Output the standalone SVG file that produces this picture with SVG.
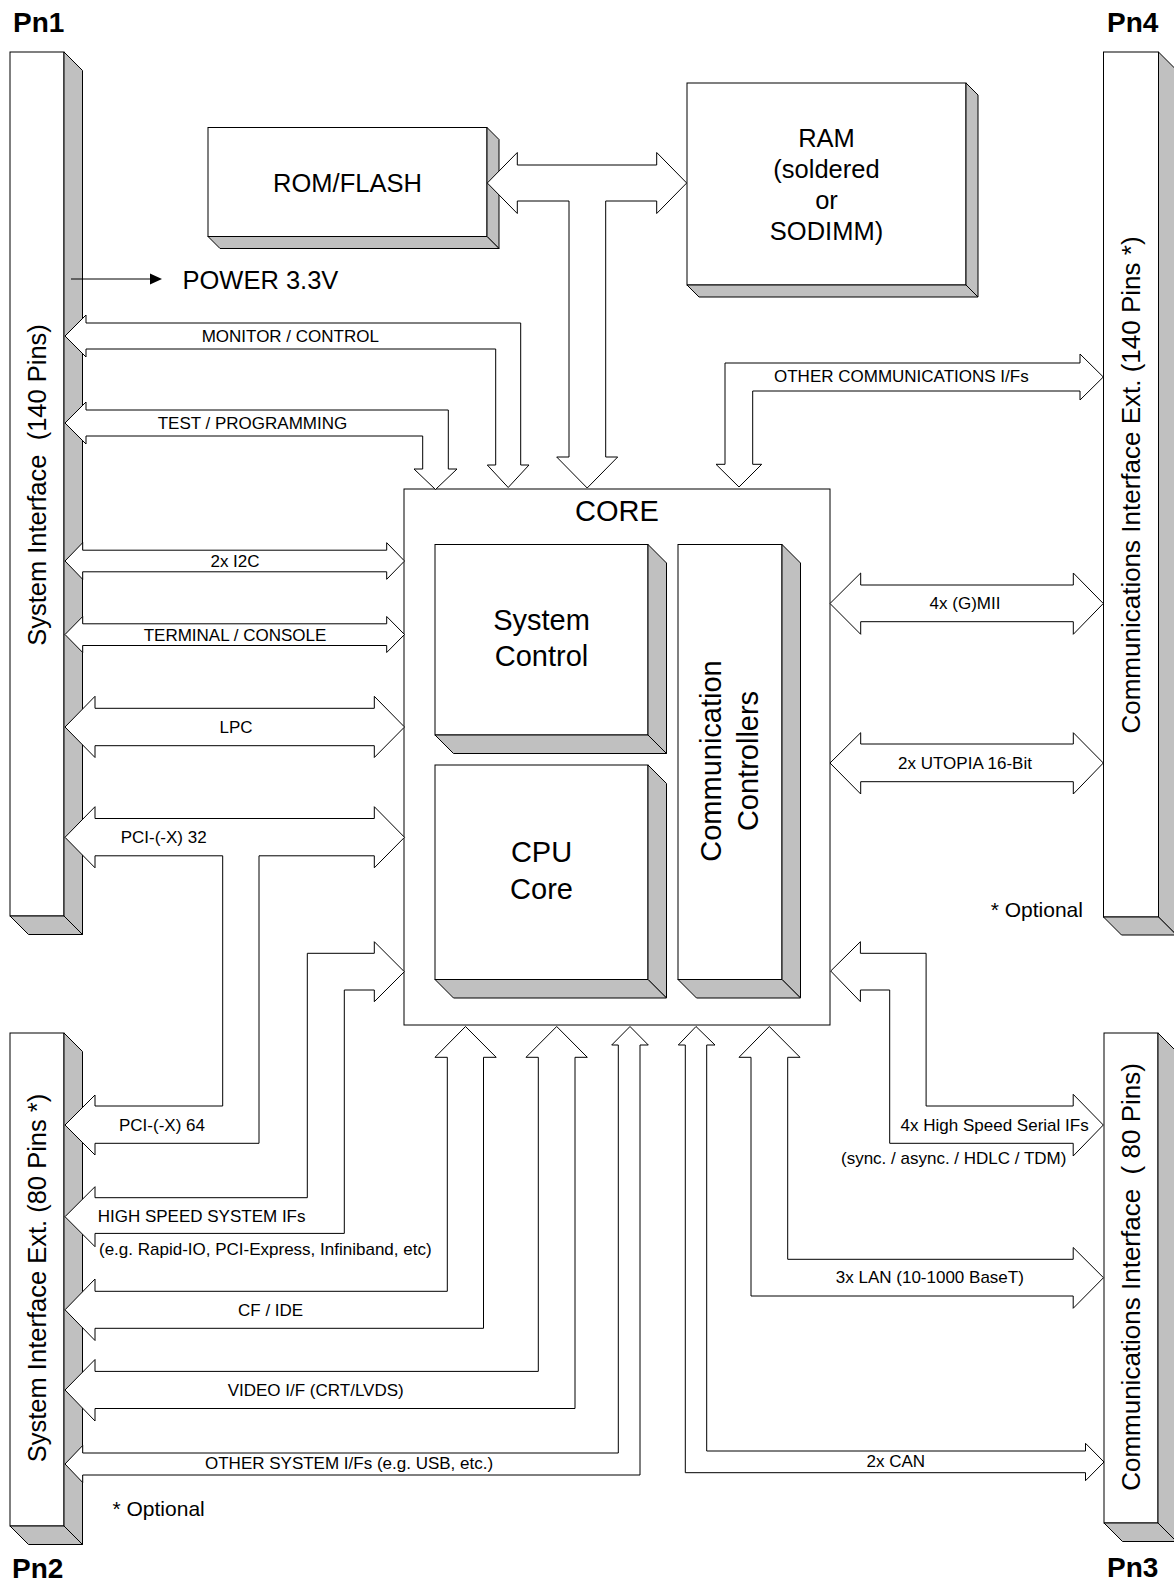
<svg xmlns="http://www.w3.org/2000/svg" width="1174" height="1582" viewBox="0 0 1174 1582">
<style>
text{font-family:"Liberation Sans",Arial,sans-serif;fill:#000}
.box{fill:#fff;stroke:#000;stroke-width:1}
.sh{fill:#c0c0c0;stroke:#000;stroke-width:1;stroke-linejoin:miter}
.arr{fill:#fff;stroke:#000;stroke-width:1;stroke-linejoin:miter}
.lbl{font-size:17px}
.big{font-size:25.5px}
.big2{font-size:26px}
.core{font-size:29px}
.pn{font-size:28px;font-weight:bold}
.opt{font-size:21px}
.pre{white-space:pre}
</style>
<rect width="1174" height="1582" fill="#fff"/>

<g id="pn1">
<rect class="box" x="10" y="52" width="54" height="864"/>
<polygon class="sh" points="64,52 82.5,70.5 82.5,934.5 64,916"/>
<polygon class="sh" points="10,916 64,916 82.5,934.5 28.5,934.5"/>
<text class="big pre" transform="translate(46,485) rotate(-90)" text-anchor="middle">System Interface  (140 Pins)</text>
<text class="pn" x="13" y="31.5">Pn1</text>
</g>

<g id="pn2">
<rect class="box" x="10" y="1033" width="54" height="493"/>
<polygon class="sh" points="64,1033 82.5,1051.5 82.5,1544.5 64,1526"/>
<polygon class="sh" points="10,1526 64,1526 82.5,1544.5 28.5,1544.5"/>
<text class="big" transform="translate(46,1278) rotate(-90)" text-anchor="middle">System Interface Ext. (80 Pins *)</text>
<text class="pn" x="12" y="1578">Pn2</text>
<text class="opt" x="112.5" y="1516">* Optional</text>
</g>

<g id="pn4">
<rect class="box" x="1103.5" y="52" width="55" height="865"/>
<polygon class="sh" points="1158.5,52 1176.5,70 1176.5,935 1158.5,917"/>
<polygon class="sh" points="1103.5,917 1158.5,917 1176.5,935 1121.5,935"/>
<text class="big2" transform="translate(1139.5,485) rotate(-90)" text-anchor="middle">Communications Interface Ext. (140 Pins *)</text>
<text class="pn" x="1107" y="31.5">Pn4</text>
<text class="opt" x="990.7" y="916.7">* Optional</text>
</g>

<g id="pn3">
<rect class="box" x="1104" y="1033" width="54" height="490"/>
<polygon class="sh" points="1158,1033 1176.5,1051.5 1176.5,1541.5 1158,1523"/>
<polygon class="sh" points="1104,1523 1158,1523 1176.5,1541.5 1122.5,1541.5"/>
<text class="big2 pre" transform="translate(1139.5,1277) rotate(-90)" text-anchor="middle">Communications Interface  ( 80 Pins)</text>
<text class="pn" x="1107" y="1577">Pn3</text>
</g>

<g id="rom">
<rect class="box" x="208" y="127.5" width="279" height="109"/>
<polygon class="sh" points="487,127.5 499,139.5 499,248.5 487,236.5"/>
<polygon class="sh" points="208,236.5 487,236.5 499,248.5 220,248.5"/>
<text class="big" x="347.5" y="191.5" text-anchor="middle">ROM/FLASH</text>
</g>

<g id="ram">
<rect class="box" x="687" y="83" width="279" height="202"/>
<polygon class="sh" points="966,83 978,95 978,297 966,285"/>
<polygon class="sh" points="687,285 966,285 978,297 699,297"/>
<text class="big" x="826.5" y="147" text-anchor="middle">RAM</text>
<text class="big" x="826.5" y="178" text-anchor="middle">(soldered</text>
<text class="big" x="826.5" y="209" text-anchor="middle">or</text>
<text class="big" x="826.5" y="240" text-anchor="middle">SODIMM)</text>
</g>

<g id="power">
<line x1="71" y1="279" x2="151" y2="279" stroke="#000" stroke-width="1"/>
<polygon points="150,273.5 162,279 150,284.5" fill="#000"/>
<text class="big" x="182.5" y="289">POWER 3.3V</text>
</g>

<g id="core">
<rect class="box" x="404" y="489" width="426" height="536"/>
<text class="core" x="617" y="520.5" text-anchor="middle">CORE</text>
<g id="system-control">
<rect class="box" x="435" y="544.5" width="213" height="190.5"/>
<polygon class="sh" points="648,544.5 666.5,563 666.5,753.5 648,735"/>
<polygon class="sh" points="435,735 648,735 666.5,753.5 453.5,753.5"/>
<text class="core" x="541.5" y="630" text-anchor="middle">System</text>
<text class="core" x="541.5" y="666" text-anchor="middle">Control</text>
</g>
<g id="cpu-core">
<rect class="box" x="435" y="765" width="213" height="214.5"/>
<polygon class="sh" points="648,765 666.5,783.5 666.5,998 648,979.5"/>
<polygon class="sh" points="435,979.5 648,979.5 666.5,998 453.5,998"/>
<text class="core" x="541.5" y="862" text-anchor="middle">CPU</text>
<text class="core" x="541.5" y="899" text-anchor="middle">Core</text>
</g>
<g id="comm-controllers">
<rect class="box" x="678" y="544.5" width="104" height="435"/>
<polygon class="sh" points="782,544.5 800.5,563 800.5,998 782,979.5"/>
<polygon class="sh" points="678,979.5 782,979.5 800.5,998 696.5,998"/>
<text class="core" transform="translate(721,761) rotate(-90)" text-anchor="middle">Communication</text>
<text class="core" transform="translate(757.5,761) rotate(-90)" text-anchor="middle">Controllers</text>
</g>
</g>

<g id="connectors">
<!-- ROM/RAM/CORE bus -->
<polygon class="arr" points="487.3,183 517.3,152.5 517.3,165 656.7,165 656.7,152.5 686.7,183 656.7,213.5 656.7,201 605.7,201 605.7,457 617.7,457 587.2,488 556.7,457 569,457 569,201 517.3,201 517.3,213.5"/>
<!-- MONITOR / CONTROL -->
<polygon class="arr" points="65,336 86,315 86,323 520.7,323 520.7,465 529,465 508.2,487.5 487.3,465 495.7,465 495.7,349 86,349 86,357"/>
<text class="lbl" x="201.7" y="341.5">MONITOR / CONTROL</text>
<!-- TEST / PROGRAMMING -->
<polygon class="arr" points="65,423 86,402 86,410 448.3,410 448.3,469 457,469 435.5,489.5 414,469 422.7,469 422.7,436 86,436 86,444"/>
<text class="lbl" x="157.7" y="429.3">TEST / PROGRAMMING</text>
<!-- OTHER COMMUNICATIONS -->
<polygon class="arr" points="1103.3,377 1080,354 1080,363 725,363 725,464.3 716,464.3 739,487 761.7,464.3 752.7,464.3 752.7,391 1080,391 1080,400"/>
<text class="lbl" x="774" y="382.3">OTHER COMMUNICATIONS I/Fs</text>
<!-- 2x I2C -->
<polygon class="arr" points="65,561 82.7,542.7 82.7,550.2 386.7,550.2 386.7,542.7 404.5,561 386.7,579.3 386.7,571.8 82.7,571.8 82.7,579.3"/>
<text class="lbl" x="235" y="566.5" text-anchor="middle">2x I2C</text>
<!-- TERMINAL / CONSOLE -->
<polygon class="arr" points="65,634.5 82.7,616.5 82.7,623.8 386.7,623.8 386.7,616.5 404.5,634.5 386.7,652.5 386.7,645.5 82.7,645.5 82.7,652.5"/>
<text class="lbl" x="235" y="640.5" text-anchor="middle">TERMINAL / CONSOLE</text>
<!-- LPC -->
<polygon class="arr" points="65,727 95,696.3 95,708.3 374.3,708.3 374.3,696.3 404.5,727 374.3,757.5 374.3,745.7 95,745.7 95,757.5"/>
<text class="lbl" x="236" y="732.5" text-anchor="middle">LPC</text>
<!-- PCI-(-X) 32 / 64 -->
<polygon class="arr" points="65,837.3 95,806.7 95,818.5 374.3,818.5 374.3,806.7 404.5,837.3 374.3,867.8 374.3,855.8 259,855.8 259,1143.3 95,1143.3 95,1155 65,1125 95,1095 95,1106 222.7,1106 222.7,855.8 95,855.8 95,867.8"/>
<text class="lbl" x="120.7" y="843.3">PCI-(-X) 32</text>
<text class="lbl" x="119" y="1130.5">PCI-(-X) 64</text>
<!-- HIGH SPEED SYSTEM IFs -->
<polygon class="arr" points="65,1216.7 95,1186.7 95,1197.7 307.3,1197.7 307.3,953.3 374.3,953.3 374.3,941.7 404.3,971.7 374.3,1001.7 374.3,990 344.3,990 344.3,1233.4 95,1233.4 95,1246.7"/>
<text class="lbl" x="97.7" y="1222.3">HIGH SPEED SYSTEM IFs</text>
<text class="lbl" x="99" y="1255.3">(e.g. Rapid-IO, PCI-Express, Infiniband, etc)</text>
<!-- CF / IDE -->
<polygon class="arr" points="65,1309.8 95,1279 95,1291.3 447.3,1291.3 447.3,1057.3 435,1057.3 465.5,1026.5 496.2,1057.3 483.5,1057.3 483.5,1328.3 95,1328.3 95,1340.5"/>
<text class="lbl" x="238" y="1316">CF / IDE</text>
<!-- VIDEO -->
<polygon class="arr" points="65,1390 95,1359.5 95,1371.4 538.3,1371.4 538.3,1057.3 526,1057.3 556.7,1026.5 587.3,1057.3 575,1057.3 575,1408.5 95,1408.5 95,1421"/>
<text class="lbl" x="227.7" y="1395.6">VIDEO I/F (CRT/LVDS)</text>
<!-- OTHER SYSTEM -->
<polygon class="arr" points="65,1464 82.7,1445.5 82.7,1453 618.3,1453 618.3,1045 611.7,1045 630,1026.5 648.3,1045 640,1045 640,1475 82.7,1475 82.7,1482.5"/>
<text class="lbl" x="205" y="1469">OTHER SYSTEM I/Fs (e.g. USB, etc.)</text>
<!-- 4x (G)MII -->
<polygon class="arr" points="830,603.5 860.7,573 860.7,585 1073.3,585 1073.3,573 1103.3,603.5 1073.3,634.3 1073.3,621.7 860.7,621.7 860.7,634.3"/>
<text class="lbl" x="965" y="608.5" text-anchor="middle">4x (G)MII</text>
<!-- 2x UTOPIA -->
<polygon class="arr" points="830,763 860.7,732.7 860.7,744 1073.3,744 1073.3,732.7 1103.3,763 1073.3,794 1073.3,781.7 860.7,781.7 860.7,794"/>
<text class="lbl" x="965" y="769" text-anchor="middle">2x UTOPIA 16-Bit</text>
<!-- 4x High Speed Serial -->
<polygon class="arr" points="830.7,971 860.4,941.7 860.4,953.3 926.1,953.3 926.1,1106 1073.2,1106 1073.2,1094.3 1103.3,1125 1073.2,1156 1073.2,1143.3 889.7,1143.3 889.7,990 860.4,990 860.4,1001.7"/>
<text class="lbl" x="900.6" y="1130.5">4x High Speed Serial IFs</text>
<text class="lbl" x="841" y="1164.3">(sync. / async. / HDLC / TDM)</text>
<!-- 3x LAN -->
<polygon class="arr" points="769.3,1026.5 800,1057.3 787.7,1057.3 787.7,1259.3 1073.2,1259.3 1073.2,1247.5 1103.5,1277.7 1073.2,1308.3 1073.2,1296 751,1296 751,1057.3 739,1057.3"/>
<text class="lbl" x="835.8" y="1282.7">3x LAN (10-1000 BaseT)</text>
<!-- 2x CAN -->
<polygon class="arr" points="696,1026.5 715,1045 706.7,1045 706.7,1451 1085.5,1451 1085.5,1443.3 1104,1462 1085.5,1480.7 1085.5,1472.7 685.3,1472.7 685.3,1045 678.3,1045"/>
<text class="lbl" x="866.5" y="1466.7">2x CAN</text>
</g>
</svg>
